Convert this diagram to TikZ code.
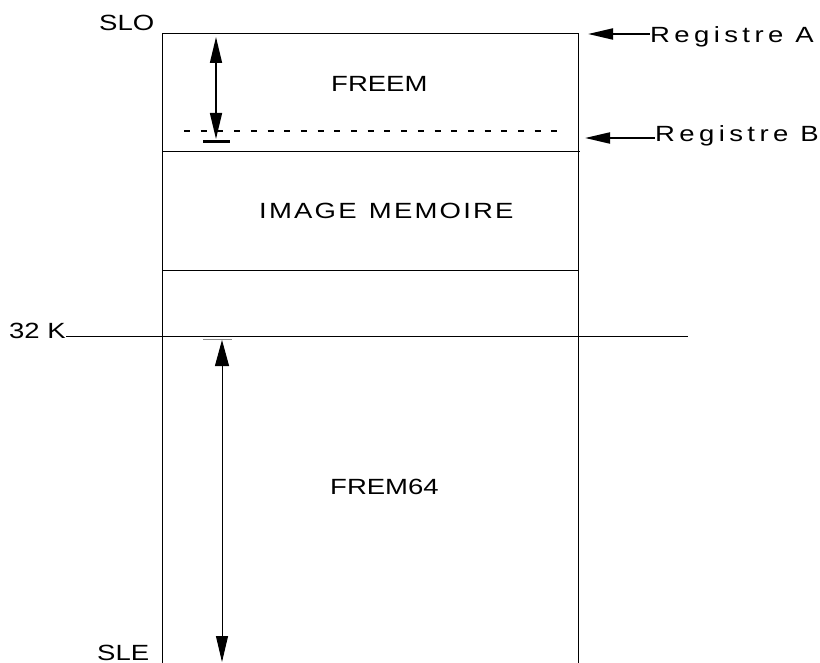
\documentclass[tikz,border=0pt]{standalone}
\usepackage{fontspec}
\usepackage{graphicx}
\setmainfont{Liberation Sans}
\usetikzlibrary{arrows.meta}
\newfontfamily\plainfont{Liberation Sans}
\newfontfamily\widefont[LetterSpace=8]{Liberation Sans}
\newfontfamily\regfont[LetterSpace=16]{Liberation Sans}
% broad lettering: Liberation Sans stretched sideways
\newcommand{\broad}[1]{\scalebox{1.25}[1]{#1}}
\begin{document}
\begin{tikzpicture}[x=1pt,y=-1pt,
  rule/.style={line width=1pt},
  label/.style={inner sep=0pt,font=\plainfont\fontsize{22}{26}\selectfont},
  widelabel/.style={inner sep=0pt,font=\widefont\fontsize{22}{26}\selectfont},
  reglabel/.style={inner sep=0pt,font=\regfont\fontsize{22}{26}\selectfont},
  regtip/.style={line width=2pt,{Triangle[length=25pt,width=11pt]}-}]
\useasboundingbox (0,0) rectangle (820,663);
% memory map outline
\draw[rule] (162,663) -- (162,34) -- (578,34) -- (578,663);
\draw[rule] (162,152) -- (580,152);
\draw[rule] (162,271) -- (578,271);
\draw[rule] (66,337) -- (688,337);
% register B level
\draw[line width=1.6pt,dash pattern=on 6pt off 10.7pt] (184,131) -- (566,131);
% area names
\node[label,anchor=base west] (freem) at (331,92) {\broad{FREEM}};
\node[widelabel,anchor=base west] (image) at (259,219) {\broad{IMAGE\hspace{0.45em}MEMOIRE}};
\node[label,anchor=base west] (frem64) at (330,494) {\broad{FREM64}};
% address labels
\node[label,anchor=base west] (slo) at (99,31) {\broad{SLO}};
\node[label,anchor=base west] (k32) at (9,338) {\broad{32 K}};
\node[label,anchor=base west] (sle) at (97,660) {\broad{SLE}};
% registers
\node[reglabel,anchor=base west] (rega) at (650,43) {\broad{Registre A}};
\node[reglabel,anchor=base west] (regb) at (655,142) {\broad{Registre B}};
\coordinate (atip) at (588,34);
\coordinate (btip) at (585,138);
\draw[regtip] (atip) -- (rega.west |- atip);
\draw[regtip] (btip) -- (regb.west |- btip);
% FREEM extent
\coordinate (ftop) at (216,37);
\coordinate (fbot) at (216,139);
\draw[line width=1.6pt,{Triangle[length=26pt,width=12pt]}-{Triangle[length=26pt,width=12pt]}] (ftop) -- (fbot);
\draw[line width=3pt] (203,142) -- (230,142);
% FREM64 extent
\coordinate (gtop) at (222,340);
\coordinate (gbot) at (222,662);
\draw[line width=0.6pt,black!45] (203,339) -- (232,339);
\draw[line width=1pt,{Triangle[length=26pt,width=14pt]}-{Triangle[length=26pt,width=12pt]}] (gtop) -- (gbot);
\end{tikzpicture}
\end{document}
